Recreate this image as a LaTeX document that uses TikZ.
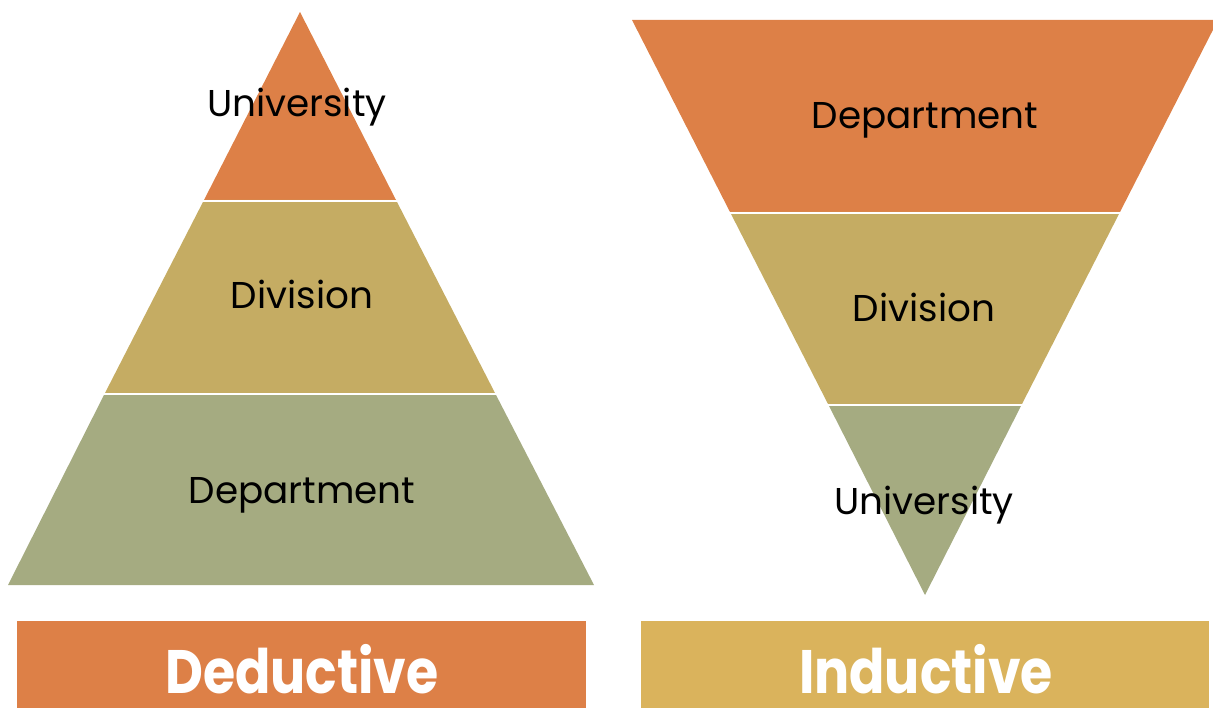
\documentclass[tikz,border=0pt]{standalone}
\usepackage{fontspec}
\setmainfont{Poppins}
\usepackage{xcolor}
\usepackage{tikz}

\definecolor{rust}{HTML}{DD8047}
\definecolor{sand}{HTML}{C5AC63}
\definecolor{sage}{HTML}{A5AB81}
\definecolor{gold}{HTML}{DAB35C}

\tikzset{
  level/.style={anchor=base, font=\fontsize{28}{32}\selectfont, inner sep=0.75pt},
  banner/.style={anchor=base, font=\fontsize{46}{50}\selectfont\bfseries, text=white,
    inner sep=0pt, text depth=0pt},
  gap/.style={white, line width=2.2pt}
}

\begin{document}
\begin{tikzpicture}[x=0.75pt,y=0.75pt,yscale=-1,xscale=1]
\useasboundingbox (0,0) rectangle (1213,709);

% deductive pyramid
\fill[rust] (300,12) -- (396,200) -- (204,200) -- cycle ;
\fill[sand] (204,200) -- (396,200) -- (495,393) -- (105,393) -- cycle ;
\fill[sage] (105,393) -- (495,393) -- (594,585) -- (8,585) -- cycle ;
\draw[gap] (190,201) -- (410,201) ;
\draw[gap] (95,394) -- (505,394) ;

% inductive (upside down)
\fill[rust] (632,20) -- (1218,20) -- (1120,212) -- (730,212) -- cycle ;
\fill[sand] (730,212) -- (1120,212) -- (1022,404) -- (828,404) -- cycle ;
\fill[sage] (828,404) -- (1022,404) -- (925,595) -- cycle ;
\draw[gap] (720,213) -- (1130,213) ;
\draw[gap] (818,405) -- (1032,405) ;

% labels
\node[level] (dUni) at (297,117) {University};
\node[level] (dDiv) at (302,308) {Division};
\node[level] (dDep) at (302,503) {Department};

\node[level] (iDep) at (925,129) {Department};
\node[level] (iDiv) at (924,321) {Division};
\node[level] (iUni) at (924,514) {University};

% bottom banners
\fill[rust] (17,621) rectangle (586,708) ;
\fill[gold] (641,621) rectangle (1209,708) ;
\node[banner] (ded) at (302,693) {\scalebox{0.85}[1]{Deductive}};
\node[banner] (ind) at (926,693) {\scalebox{0.85}[1]{Inductive}};
\end{tikzpicture}
\end{document}
